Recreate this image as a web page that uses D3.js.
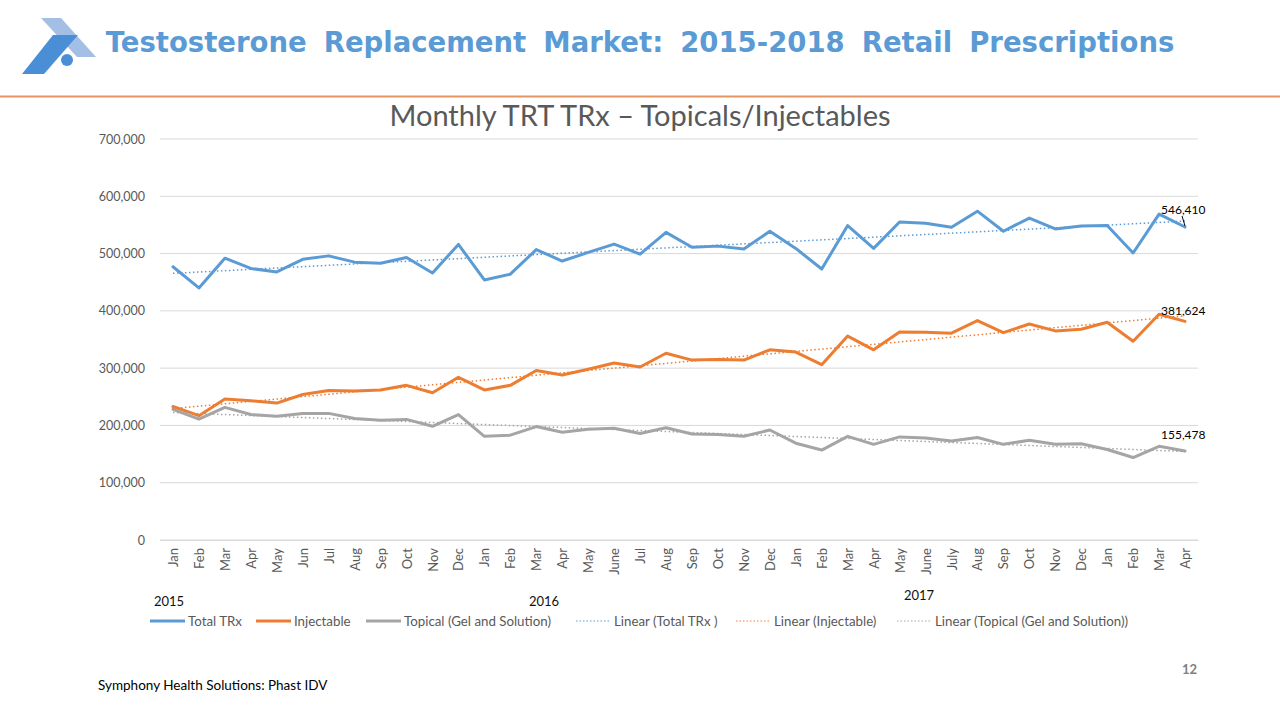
<!DOCTYPE html>
<html>
<head>
<meta charset="utf-8">
<script src="https://cdn.jsdelivr.net/npm/d3@7"></script>
<style>
  html, body { margin: 0; padding: 0; background: #fff; }
  svg { display: block; }
</style>
</head>
<body>
<svg id="chart" width="1280" height="720"></svg>
<script>
// ---------- DATA ----------
const months = ["Jan","Feb","Mar","Apr","May","Jun","Jul","Aug","Sep","Oct","Nov","Dec",
                "Jan","Feb","Mar","Apr","May","June","Jul","Aug","Sep","Oct","Nov","Dec",
                "Jan","Feb","Mar","Apr","May","June","July","Aug","Sep","Oct","Nov","Dec",
                "Jan","Feb","Mar","Apr"];
const years = ["2015","2016","2017"];
const yearPos = [-0.15, 14.3, 28.75];   // category position of each year label
const yTicks = [0,100000,200000,300000,400000,500000,600000,700000];

const totalTRx = [477000,440000,492000,474000,468000,490000,496000,485000,483000,493000,466000,516000,
                  454000,464000,507000,487000,502000,516500,499000,537000,511000,513000,508000,539000,
                  509000,473000,549000,509000,555000,553000,546000,574000,539000,562000,543000,548000,
                  549000,501000,569000,546410];
const injectable = [233000,217000,246000,243000,239000,254000,261000,260000,262000,270000,257000,284000,
                    262000,270000,296000,288000,298000,309000,302000,326000,314000,315000,314000,332000,
                    328000,306000,356000,332000,363000,362500,361000,383000,362000,377000,365000,368000,
                    380000,347000,394000,381624];
const topical = [228000,211000,231500,219000,216000,221000,221000,212000,209000,210500,198500,219000,
                 181000,183000,198000,188000,193500,195000,186000,196000,185000,184000,181000,192000,
                 169000,157000,181000,167000,180000,178000,173000,179000,167000,174000,167000,168000,
                 158000,144000,163500,155478];

const seriesNames = ["Total TRx","Injectable","Topical (Gel and Solution)"];
const trendNames = ["Linear (Total TRx )","Linear (Injectable)","Linear (Topical (Gel and Solution))"];
const colors = ["#5B9BD5","#ED7D31","#A5A5A5"];

// ---------- SETUP ----------
const svg = d3.select("#chart");
const font = "Lato, 'Open Sans', sans-serif";

// Header
const logo = svg.append("g");
logo.append("path").attr("d","M41,18 L61,18 L96,57 L77,57 Z").attr("fill","#A3BFE6");
logo.append("path").attr("d","M53,35 L78,35 L44,74 L22,74 Z").attr("fill","#4A8FD6");
logo.append("circle").attr("cx",67).attr("cy",60).attr("r",6).attr("fill","#4A8FD6");

svg.append("text").attr("x",640).attr("y",52).attr("text-anchor","middle")
  .attr("font-family","'DejaVu Sans', Verdana, sans-serif").attr("font-weight","bold")
  .attr("font-size",27.5).attr("word-spacing",7.5).attr("fill","#5B9BD5")
  .text("Testosterone Replacement Market: 2015-2018 Retail Prescriptions");

svg.append("line").attr("x1",0).attr("x2",1280).attr("y1",96.5).attr("y2",96.5)
  .attr("stroke","#E29463").attr("stroke-width",2);

// Chart title
svg.append("text").attr("x",640).attr("y",126).attr("text-anchor","middle")
  .attr("font-family",font).attr("font-size",29).attr("fill","#595959")
  .text("Monthly TRT TRx \u2013 Topicals/Injectables");

// Scales
const x = d3.scaleLinear().domain([-0.5, months.length - 0.5]).range([160, 1198]);
const y = d3.scaleLinear().domain([0, 700000]).range([540, 139]);

// Gridlines
svg.append("g").selectAll("line").data(yTicks).join("line")
  .attr("x1",160).attr("x2",1198)
  .attr("y1",d=>y(d)).attr("y2",d=>y(d))
  .attr("stroke","#D9D9D9").attr("stroke-width",1);

// Y axis
const yAxis = d3.axisLeft(y).tickValues(yTicks).tickFormat(d3.format(",")).tickSize(0).tickPadding(15);
const yg = svg.append("g").attr("transform","translate(160,0)").call(yAxis);
yg.select(".domain").remove();
yg.selectAll("text").attr("font-family",font).attr("font-size",12.5).attr("fill","#595959");

// X axis
const xAxis = d3.axisBottom(x).tickValues(d3.range(months.length)).tickFormat(i=>months[i]).tickSize(0).tickPadding(0);
const xg = svg.append("g").attr("transform","translate(0,540)").call(xAxis);
xg.select(".domain").attr("stroke","#D9D9D9");
xg.selectAll("text")
  .attr("font-family",font).attr("font-size",13).attr("fill","#595959")
  .attr("text-anchor","end").attr("dy","0.35em")
  .attr("transform","translate(0,8) rotate(-90)")
  .attr("x",0).attr("y",0);

// Year labels
const yearY = [601,601,595];
svg.append("g").selectAll("text").data(years).join("text")
  .attr("x",(d,i)=>x(yearPos[i])).attr("y",(d,i)=>yearY[i]+5)
  .attr("text-anchor","middle").attr("font-family",font).attr("font-size",13).attr("fill","#111")
  .text(d=>d);

// Lines
const all = [totalTRx, injectable, topical];
const line = d3.line().x((d,i)=>x(i)).y(d=>y(d));

// Trendlines (least squares)
function fit(vals){
  const n = vals.length, xs = d3.range(n);
  const mx = d3.mean(xs), my = d3.mean(vals);
  let sxy=0, sxx=0;
  xs.forEach((xi,i)=>{ sxy += (xi-mx)*(vals[i]-my); sxx += (xi-mx)*(xi-mx); });
  const b = sxy/sxx, a = my - b*mx;
  return [0, n-1].map(i=>[i, a + b*i]);
}

all.forEach((vals,k)=>{
  svg.append("path").datum(vals).attr("d",line)
    .attr("fill","none").attr("stroke",colors[k]).attr("stroke-width",3)
    .attr("stroke-linejoin","round").attr("stroke-linecap","round");
});
all.forEach((vals,k)=>{
  svg.append("path").datum(fit(vals))
    .attr("d", d3.line().x(d=>x(d[0])).y(d=>y(d[1])))
    .attr("fill","none").attr("stroke",colors[k]).attr("stroke-width",1.5)
    .attr("stroke-dasharray","1.5,2.5");
});

// Data labels on last points
const last = months.length - 1;
const labelDy = [-13, -6, -12];
all.forEach((vals,k)=>{
  svg.append("text")
    .attr("x", x(last) - 24).attr("y", y(vals[last]) + labelDy[k])
    .attr("font-family",font).attr("font-size",12).attr("fill","#000")
    .text(d3.format(",")(vals[last]));
});
svg.append("line")
  .attr("x1", x(last) - 3).attr("y1", y(totalTRx[last]) - 11)
  .attr("x2", x(last)).attr("y2", y(totalTRx[last]) - 1)
  .attr("stroke","#000").attr("stroke-width",1);

// Legend
const legend = svg.append("g").attr("transform","translate(0,621)");
const legendItems = [
  {name: seriesNames[0], color: colors[0], dash: null, x: 150},
  {name: seriesNames[1], color: colors[1], dash: null, x: 256},
  {name: seriesNames[2], color: colors[2], dash: null, x: 366},
  {name: trendNames[0], color: colors[0], dash: "1.5,2", x: 576},
  {name: trendNames[1], color: colors[1], dash: "1.5,2", x: 736},
  {name: trendNames[2], color: colors[2], dash: "1.5,2", x: 897}
];
legendItems.forEach(it=>{
  legend.append("line").attr("x1",it.x).attr("x2",it.x+35).attr("y1",0).attr("y2",0)
    .attr("stroke",it.color).attr("stroke-width", it.dash ? 1.2 : 3)
    .attr("stroke-dasharray", it.dash);
  legend.append("text").attr("x",it.x+38).attr("y",0).attr("dy","0.35em")
    .attr("font-family",font).attr("font-size",13.3).attr("fill","#595959")
    .text(it.name);
});

// Footer
svg.append("text").attr("x",98).attr("y",690)
  .attr("font-family",font).attr("font-size",13.5).attr("fill","#000")
  .text("Symphony Health Solutions: Phast IDV");
svg.append("text").attr("x",1197).attr("y",674).attr("text-anchor","end")
  .attr("font-family",font).attr("font-weight","bold").attr("font-size",13).attr("fill","#7F7F7F")
  .text("12");
</script>
</body>
</html>
